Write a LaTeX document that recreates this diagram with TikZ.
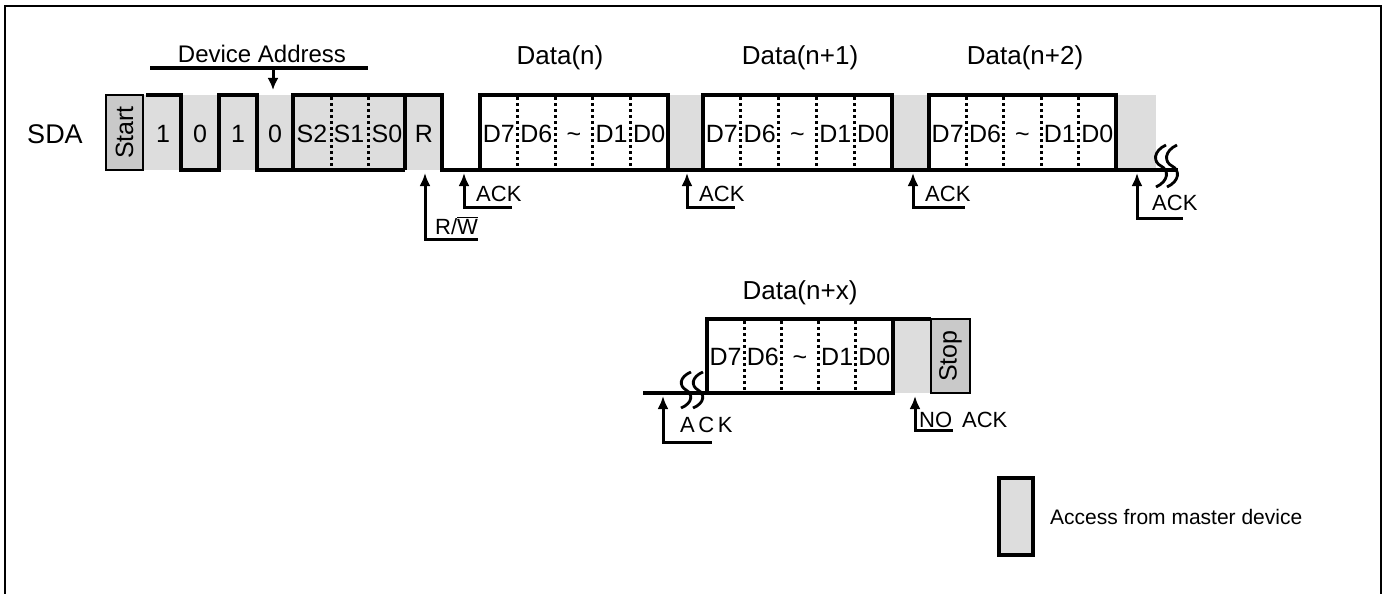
\documentclass[tikz,border=0pt]{standalone}
\usepackage{fontspec}
\setmainfont{Liberation Sans}
\usetikzlibrary{arrows.meta}
\definecolor{bandgray}{HTML}{DDDDDD}
\definecolor{startgray}{HTML}{C9C9C9}
\begin{document}
\begin{tikzpicture}[x=1pt,y=-1pt,
  wave/.style={line width=3.6pt,line join=miter},
  frameline/.style={line width=2.2pt},
  dotline/.style={line width=3pt,dash pattern=on 3pt off 3pt},
  sebox/.style={line width=2.8pt,fill=startgray},
  title/.style={font=\fontsize{26}{30}\selectfont,inner sep=0pt,anchor=base},
  bit/.style={font=\fontsize{25}{29}\selectfont,inner sep=0pt,anchor=base},
  albl/.style={font=\fontsize{22}{26}\selectfont,inner sep=0pt,anchor=base west},
  rot/.style={font=\fontsize{25}{29}\selectfont,inner sep=0pt,rotate=90},
  ackarrow/.style={line width=3pt,{Latex[length=13pt,width=11pt]}-},
  squig/.style={line width=2.8pt}]
\useasboundingbox (0,0) rectangle (1387,594);
% frame
\draw[frameline] (5,596) -- (5,6) -- (1381,6) -- (1381,596);

% titles
\node[title,font=\fontsize{27}{31}\selectfont] (sda) at (55,143) {SDA};
\node[title,font=\fontsize{24}{28}\selectfont] (devaddr) at (262,63) {Device Address};
\node[title] (dn) at (560,64) {Data(n)};
\node[title] (dn1) at (800,64) {Data(n+1)};
\node[title] (dn2) at (1025,64) {Data(n+2)};
\node[title] (dnx) at (800,299) {Data(n+x)};

% device address bracket
\coordinate (dal) at (150,68);
\coordinate (dar) at (368,68);
\coordinate (dam) at (273,68);
\coordinate (datip) at (273,90);
\draw[wave] (dal) -- (dar);
\draw[line width=3pt,-{Latex[length=12pt,width=11pt]}] (dam) -- (datip);

% gray bands (master access)
\fill[bandgray] (143,95) rectangle (442,170);
\fill[bandgray] (668,95) rectangle (703,170);
\fill[bandgray] (892,95) rectangle (929,170);
\fill[bandgray] (1116,95) rectangle (1156,170);

% start box
\draw[sebox] (106,95) rectangle (143,170);
\node[rot] (start) at (124.5,132.5) {Start};

% address waveform
\draw[wave] (146,95) -- (181,95) -- (181,170) -- (219,170) -- (219,95) -- (257,95)
  -- (257,170) -- (293,170) -- (293,95) -- (442,95) -- (442,170) -- (480,170);
\draw[wave] (293,170) -- (405,170);
\draw[wave] (405,95) -- (405,170);
\draw[dotline] (331,97) -- (331,169);
\draw[dotline] (368,97) -- (368,169);

\node[bit] (b1) at (163,142) {1};
\node[bit] (b2) at (200,142) {0};
\node[bit] (b3) at (238,142) {1};
\node[bit] (b4) at (275,142) {0};
\node[bit] (s2) at (312,142) {S2};
\node[bit] (s1) at (349,142) {S1};
\node[bit] (s0) at (387,142) {S0};
\node[bit] (rb) at (424,142) {R};

% data boxes, top row
\draw[wave,fill=white] (480,95) rectangle (668,170);
\draw[wave,fill=white] (703,95) rectangle (892,170);
\draw[wave,fill=white] (929,95) rectangle (1116,170);
\draw[wave] (668,170) -- (703,170);
\draw[wave] (892,170) -- (929,170);
\draw[wave] (1116,170) -- (1178,170);

\foreach \x/\w/\n in {480/37.6/a, 703/37.8/b, 929/37.4/c}{
  \foreach \k in {1,...,4}{
    \draw[dotline] ({\x+\k*\w},97) -- ({\x+\k*\w},169);
  }
  \foreach \k/\t in {0/D7,1/D6,2/\textasciitilde,3/D1,4/D0}{
    \node[bit] (d\n\k) at ({\x+(\k+0.5)*\w},142) {\t};
  }
}

% squiggle top right
\foreach \cx in {1161,1172}{
  \draw[squig] (\cx+5,145) .. controls (\cx-8,151) and (\cx-8,162) .. (\cx,166)
    .. controls (\cx+8,170) and (\cx+8,181) .. (\cx-5,187);
}

% ACK arrows, top row
\coordinate (rwtip) at (425,173);  \coordinate (rwend) at (478,239);
\draw[ackarrow] (rwtip) |- (rwend);
\node[albl] (rw) at (435,234) {R/$\overline{\mbox{W}}$};

\coordinate (a1tip) at (464,173);  \coordinate (a1end) at (512,207);
\draw[ackarrow] (a1tip) |- (a1end);
\node[albl] (ack1) at (476,201) {ACK};

\coordinate (a2tip) at (687,173);  \coordinate (a2end) at (735,207);
\draw[ackarrow] (a2tip) |- (a2end);
\node[albl] (ack2) at (699,201) {ACK};

\coordinate (a3tip) at (913,173);  \coordinate (a3end) at (965,207);
\draw[ackarrow] (a3tip) |- (a3end);
\node[albl] (ack3) at (925,201) {ACK};

\coordinate (a4tip) at (1137,173);  \coordinate (a4end) at (1183,218);
\draw[ackarrow] (a4tip) |- (a4end);
\node[albl] (ack4) at (1152,210) {ACK};

% bottom row
\fill[bandgray] (893,319) rectangle (931,393);
\draw[wave] (643,393) -- (707,393);
\draw[wave,fill=white] (707,319) rectangle (893,393);
\draw[wave] (893,319) -- (931,319);
\draw[sebox] (931,319) rectangle (970,393);
\node[rot] (stop) at (950.5,356) {Stop};

\foreach \k in {1,...,4}{
  \draw[dotline] ({707+\k*37.2},321) -- ({707+\k*37.2},392);
}
\foreach \k/\t in {0/D7,1/D6,2/\textasciitilde,3/D1,4/D0}{
  \node[bit] (dx\k) at ({707+(\k+0.5)*37.2},365) {\t};
}

\foreach \cx in {686,698}{
  \draw[squig] (\cx+5,372) .. controls (\cx-7,377) and (\cx-7,386) .. (\cx,390)
    .. controls (\cx+7,394) and (\cx+7,403) .. (\cx-5,408);
}

\coordinate (axtip) at (663,396);  \coordinate (axend) at (712,442);
\draw[ackarrow] (axtip) |- (axend);
\node[albl] (ackx) at (680,432) {A\hspace{0.16em}C\hspace{0.16em}K};

\coordinate (natip) at (915,396);  \coordinate (naend) at (953,430);
\draw[ackarrow] (natip) |- (naend);
\node[albl] (noack) at (919,427) {NO\hspace{0.45em}ACK};

% legend
\draw[line width=3.4pt,fill=bandgray] (999,478) rectangle (1033,555);
\node[font=\fontsize{21}{25}\selectfont,inner sep=0pt,anchor=west] (legend) at (1050,517) {Access from master device};
\end{tikzpicture}
\end{document}
